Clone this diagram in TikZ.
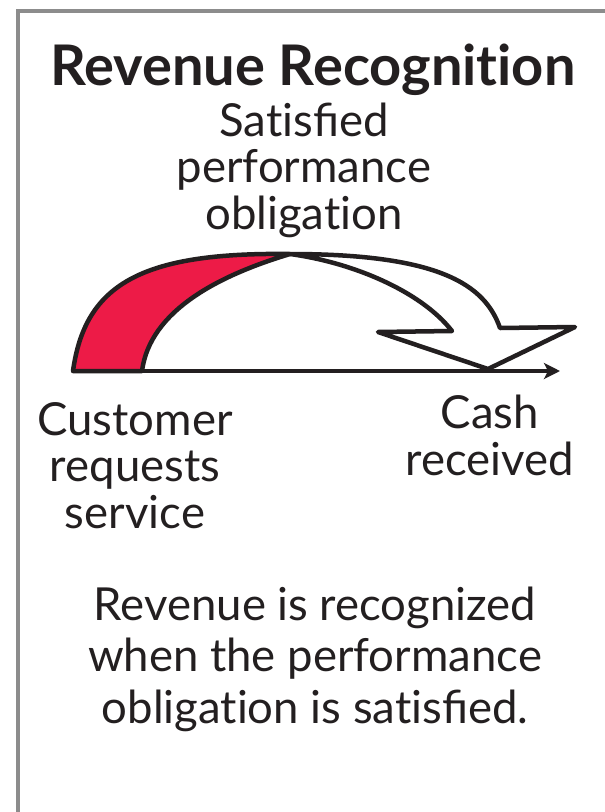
\documentclass[tikz,border=0pt]{standalone}
\usepackage{fontspec}
\setmainfont{Lato}[Ligatures=NoCommon]
\usetikzlibrary{arrows.meta}
\definecolor{ink}{HTML}{231F20}
\definecolor{revred}{RGB}{237,27,71}
\definecolor{framegray}{HTML}{8C8C8C}
\begin{document}
\begin{tikzpicture}[x=1pt,y=-1pt,
  outline/.style={draw=ink,line width=4.5pt,line join=round},
  lbl/.style={inner sep=0pt,text=ink,align=center,anchor=base,font=\fontsize{45.5}{46.5}\selectfont},
  note/.style={lbl,font=\fontsize{45.5}{51.5}\selectfont},
  titlefont/.style={inner sep=0pt,text=ink,anchor=base,font=\fontsize{56}{60}\selectfont\bfseries}]
\useasboundingbox (0,0) rectangle (605,812);
\fill[white] (0,0) rectangle (605,812);
\draw[framegray,line width=3.5pt] (16,11) -- (605,11);
\draw[framegray,line width=3.5pt] (18,11) -- (18,812);
\node[titlefont] (title) at (313,85) {Revenue Recognition};
\node[lbl] (sat) at (304,229) {Satisﬁed\\performance\\obligation};
\coordinate (start) at (73,371);
\coordinate (end) at (560,371);
\coordinate (top) at (290,254);
\filldraw[outline,fill=revred] (start) .. controls (85,285) and (140,252) .. (top)
  .. controls (220,275) and (150,310) .. (142,371) -- cycle;
\draw[outline,fill=white] (top) .. controls (440,254) and (485,285) .. (500,328)
  -- (575,327) -- (488,369) -- (378,332) -- (452,331)
  .. controls (420,290) and (350,262) .. (top) -- cycle;
\draw[ink,line width=4.5pt,-{Stealth[length=16pt,width=16pt,inset=4pt]}] (start) -- (end);
\node[lbl] (cust) at (135,528) {Customer\\requests\\service};
\node[lbl] (cash) at (490,475) {Cash\\received};
\node[note] (rule) at (315,723) {Revenue is recognized\\when the performance\\obligation is satisﬁed.};
\end{tikzpicture}
\end{document}
